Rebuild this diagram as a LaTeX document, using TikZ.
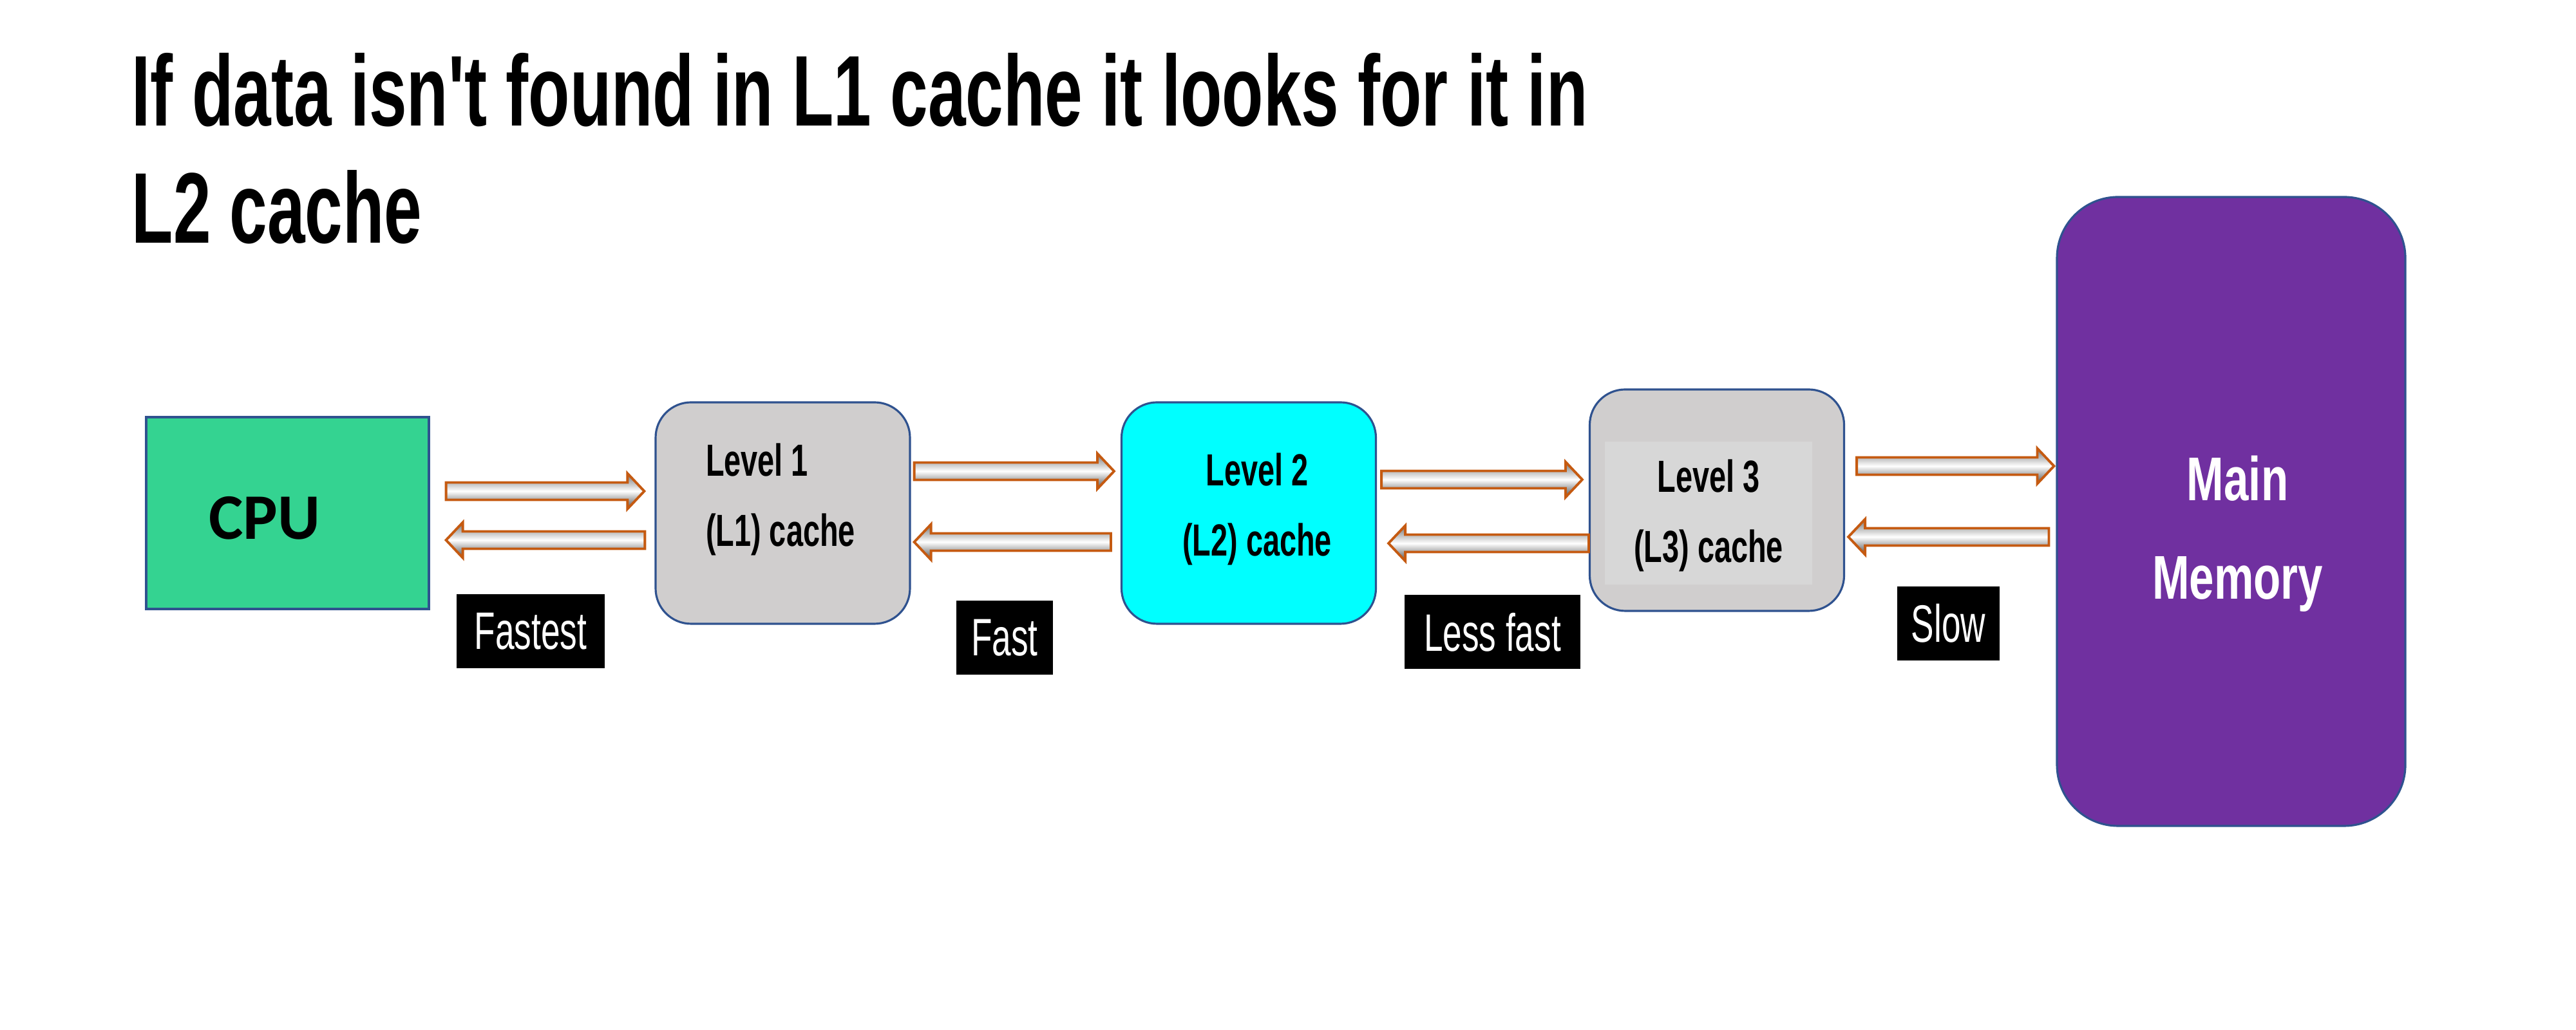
\documentclass[tikz,border=0pt]{standalone}
\usepackage{fontspec}
\setmainfont{Liberation Sans}
\newfontfamily\headfont[FakeStretch=0.675]{Liberation Sans}
\newfontfamily\levelfont[FakeStretch=0.67]{Liberation Sans}
\newfontfamily\tagfont[FakeStretch=0.65]{Liberation Sans}
\newfontfamily\memfont[FakeStretch=0.72]{Liberation Sans}
\newfontfamily\cpufont{Carlito}
\usetikzlibrary{calc,positioning}

\definecolor{cpugreen}{RGB}{52,211,145}
\definecolor{edgeblue}{RGB}{47,82,143}
\definecolor{cachegray}{RGB}{208,206,206}
\definecolor{innergray}{RGB}{215,215,215}
\definecolor{aqua}{RGB}{0,255,255}
\definecolor{memviolet}{RGB}{112,48,160}
\definecolor{arroworange}{RGB}{197,90,17}

% fat shaded arrow from #1 (tail) to #2 (tip), at height #3 (cm)
\newcommand{\blockarrow}[3]{%
  \shadedraw[arrowbody] let \p1=(#1), \p2=(#2), \n1={sign(\x2-\x1)}, \n2={\x2-\n1*\headl} in
    (\x1,{#3cm+\shaftw}) -- (\n2,{#3cm+\shaftw}) -- (\n2,{#3cm+\headw})
    -- (\x2,{#3cm}) -- (\n2,{#3cm-\headw}) -- (\n2,{#3cm-\shaftw})
    -- (\x1,{#3cm-\shaftw}) -- cycle;}

\begin{document}
\begin{tikzpicture}[
    box/.style={draw=edgeblue, line width=0.9pt, inner sep=0pt},
    cachebox/.style={box, fill=cachegray, rounded corners=0.55cm, minimum width=3.95cm, minimum height=3.44cm},
    headline/.style={font=\headfont\bfseries\fontsize{44.4}{51.8}\selectfont, inner sep=0pt, anchor=base west},
    leveltext/.style={font=\levelfont\bfseries\fontsize{19.9}{31}\selectfont, inner sep=0pt},
    speedtag/.style={fill=black, text=white, font=\tagfont\fontsize{23.3}{28}\selectfont, minimum height=1.15cm, inner sep=0pt},
    arrowbody/.style={draw=arroworange, line width=1.1pt, top color=gray!90!black, bottom color=gray!60!black, middle color=white}
  ]
  % Define dimensions
  \def\shaftw{0.135cm}
  \def\headw{0.275cm}
  \def\headl{0.26cm}
  \useasboundingbox (0,0) rectangle (40,16);

  % Title
  \node[headline] (head1) at (2.04,14.04) {If data isn't found in L1 cache it looks for it in};
  \node[headline] (head2) at (2.04,12.22) {L2 cache};

  % Draw boxes
  \node[box, fill=cpugreen, minimum width=4.39cm, minimum height=2.98cm] (cpu) at (4.465,8.03) {};
  \node[cachebox] (l1) at (12.155,8.03) {};
  \node[cachebox, fill=aqua] (l2) at (19.39,8.03) {};
  \node[cachebox] (l3) at (26.66,8.23) {};
  \fill[innergray] ($(l3.center)+(-1.74,-1.31)$) rectangle ++(3.22,2.22);
  \node[box, fill=memviolet, rounded corners=0.95cm, minimum width=5.41cm, minimum height=9.77cm] (mm) at (34.645,8.055) {};

  % Label boxes
  \node[font=\cpufont\bfseries\fontsize{28.7}{34}\selectfont, inner sep=0pt] (cputext) at (4.11,7.955) {CPU};
  \node[leveltext, align=left] (l1text) at (12.12,8.245) {Level 1\\(L1) cache};
  \node[leveltext, align=center] (l2text) at (19.52,8.09) {Level 2\\(L2) cache};
  \node[leveltext, align=center] (l3text) at (26.53,7.99) {Level 3\\(L3) cache};
  \node[font=\memfont\bfseries\fontsize{27.3}{43.5}\selectfont, text=white, align=center, inner sep=0pt] (mmtext) at ($(mm.center)+(0.1,-0.35)$) {Main\\Memory};

  % Speed tags
  \node[speedtag, minimum width=2.30cm] (fastest) at (8.24,6.195) {Fastest};
  \node[speedtag, minimum width=1.50cm] (fast) at (15.60,6.09) {Fast};
  \node[speedtag, minimum width=2.73cm] (lessfast) at (23.175,6.18) {Less fast};
  \node[speedtag, minimum width=1.59cm] (slow) at (30.255,6.315) {Slow};

  % Arrows towards main memory
  \foreach \src/\dst/\ypos/\gapa/\gapb in {cpu/l1/8.37/0.25/0.16, l1/l2/8.68/0.05/0.10, l2/l3/8.55/0.07/0.10, l3/mm/8.76/0.18/0.03}
    \blockarrow{$(\src.east)+(\gapa,0)$}{$(\dst.west)-(\gapb,0)$}{\ypos};
  % Arrows back towards the cpu
  \foreach \src/\dst/\ypos/\gapa/\gapb in {l1/cpu/7.61/0.15/0.25, l2/l1/7.58/0.15/0.05, l3/l2/7.56/0.0/0.18, mm/l3/7.66/0.11/0.05}
    \blockarrow{$(\src.west)-(\gapa,0)$}{$(\dst.east)+(\gapb,0)$}{\ypos};
\end{tikzpicture}
\end{document}
